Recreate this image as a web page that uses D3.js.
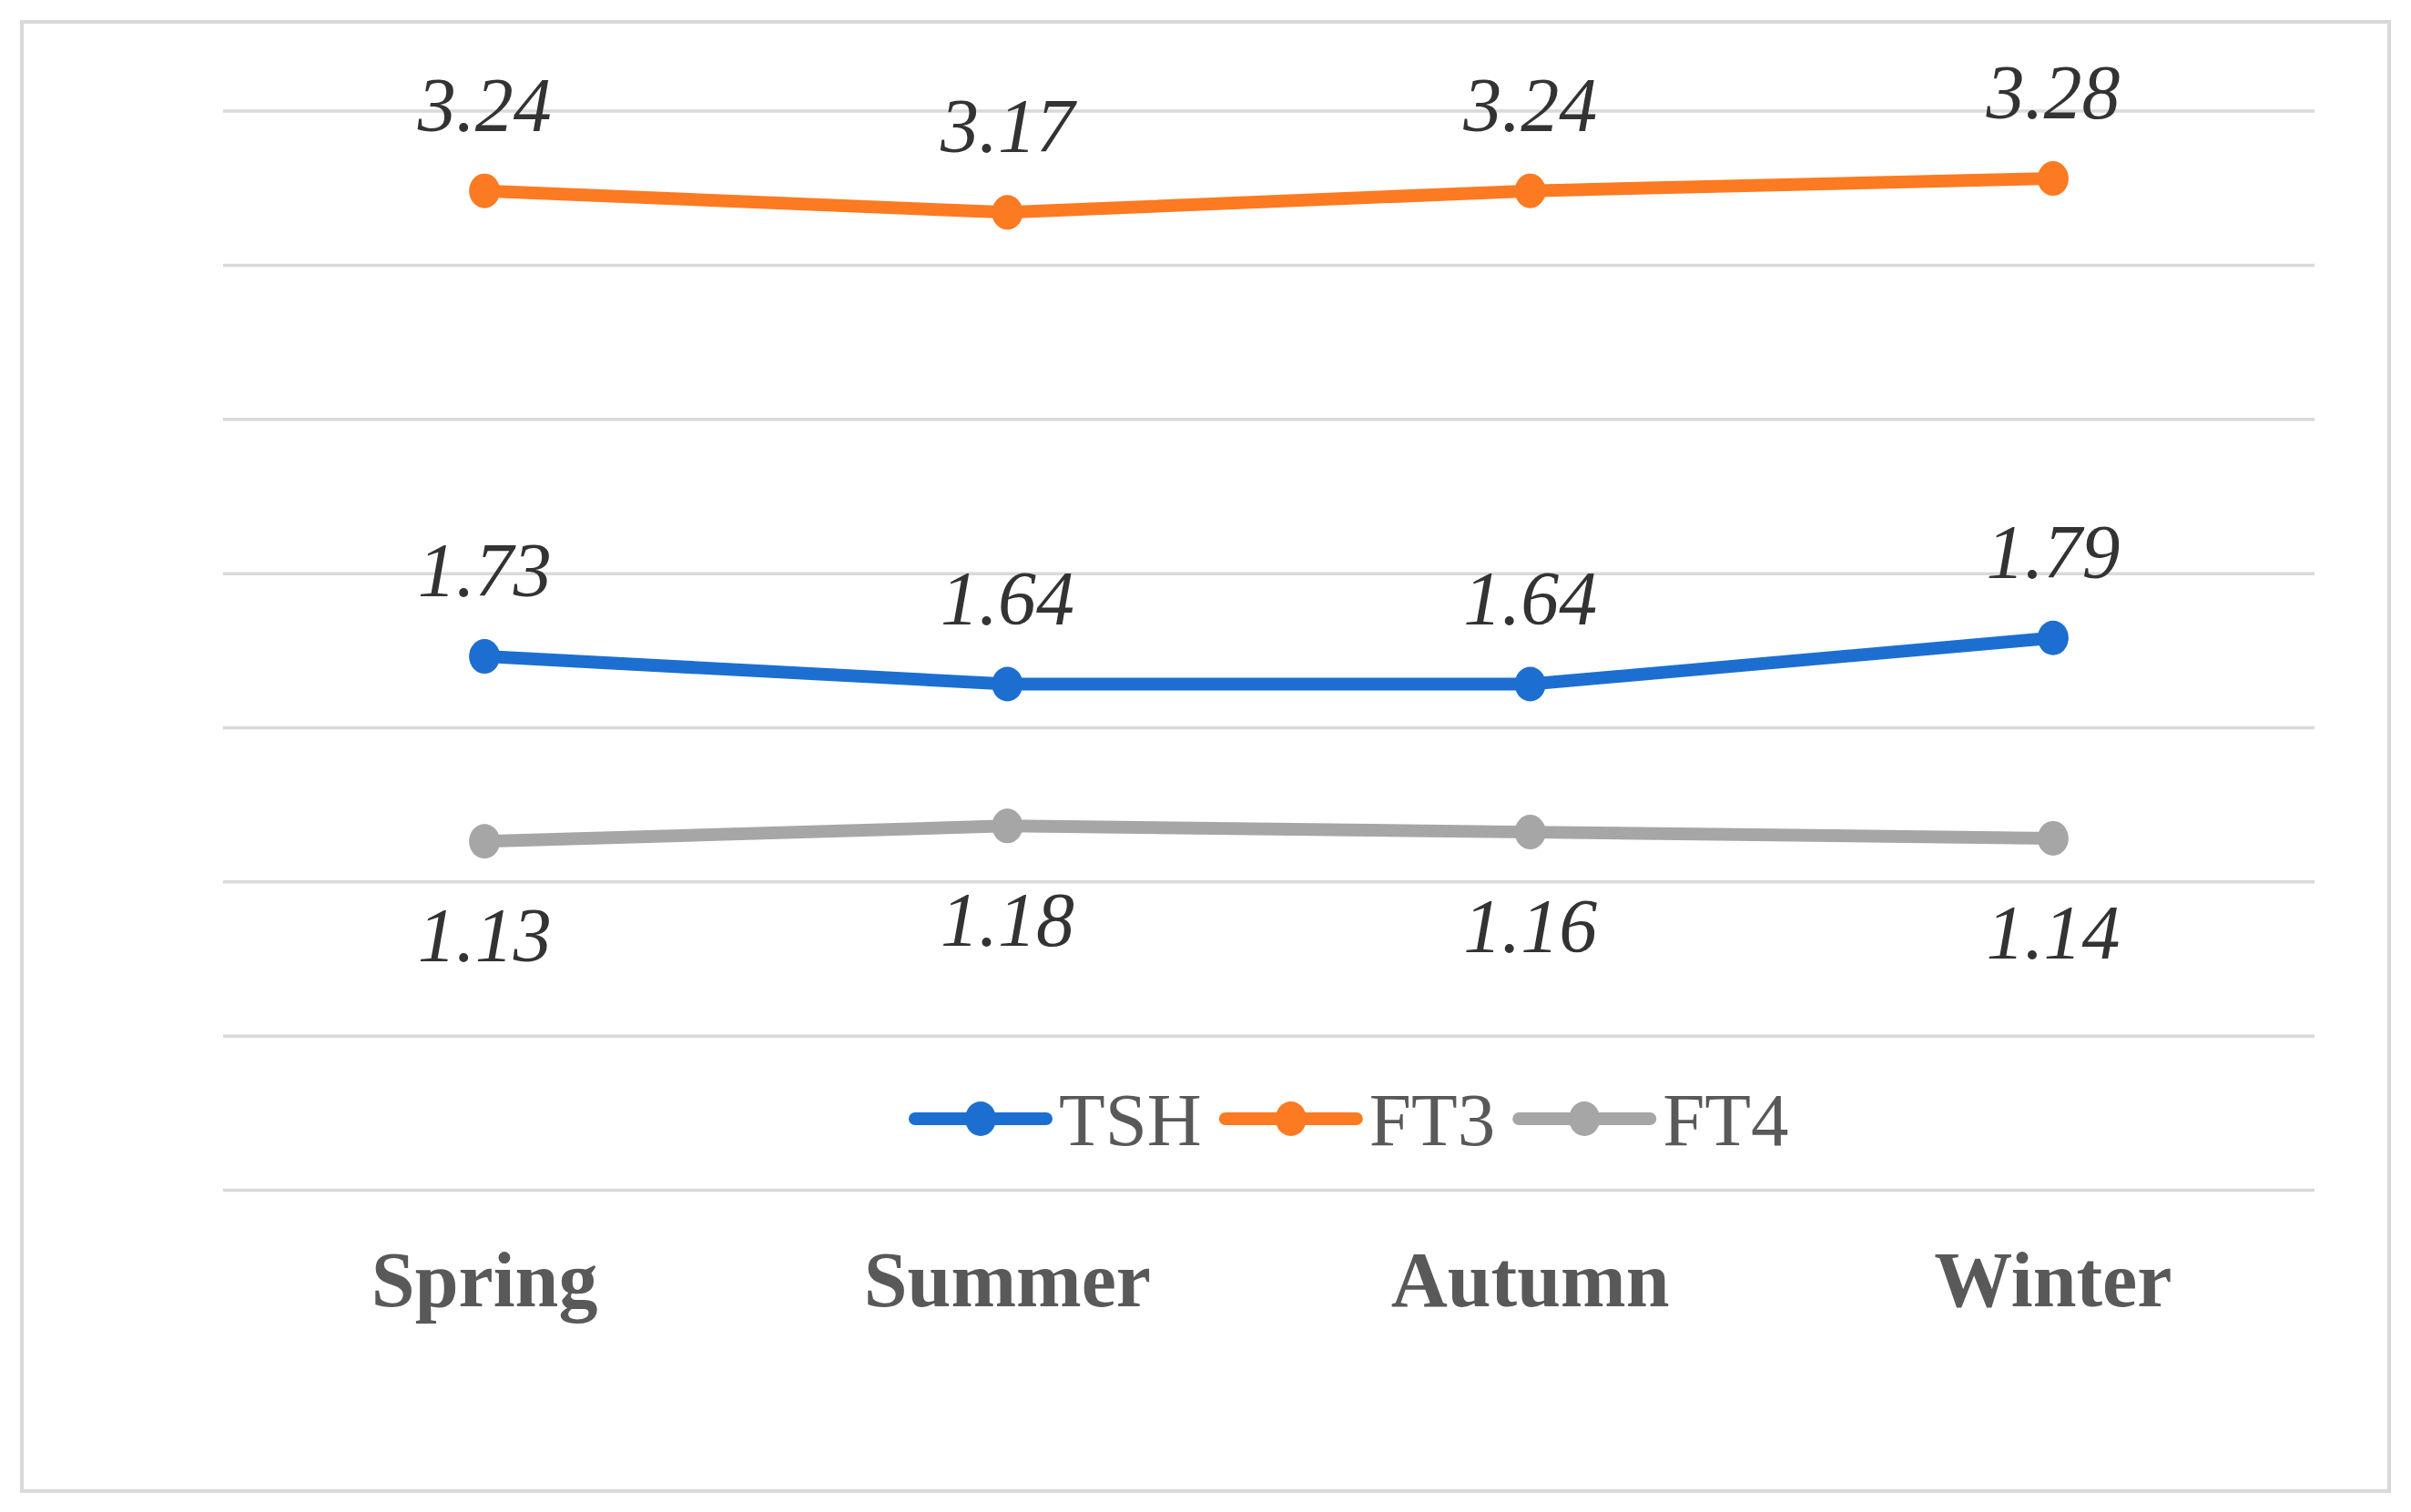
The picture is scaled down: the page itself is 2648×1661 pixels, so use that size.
<!DOCTYPE html>
<html>
<head>
<meta charset="utf-8">
<script src="https://cdn.jsdelivr.net/npm/d3@7"></script>
<style>
  html, body { margin: 0; padding: 0; background: #ffffff; }
  svg { display: block; }
</style>
</head>
<body>
<svg id="chart" width="2648" height="1661"></svg>
<script>
const categories = ["Spring", "Summer", "Autumn", "Winter"];
const seriesNames = ["TSH", "FT3", "FT4"];
const tshValues = [1.73, 1.64, 1.64, 1.79];
const ft3Values = [3.24, 3.17, 3.24, 3.28];
const ft4Values = [1.13, 1.18, 1.16, 1.14];
const gridTicks = [0, 0.5, 1, 1.5, 2, 2.5, 3, 3.5];

const series = [
  { name: seriesNames[0], values: tshValues, color: "#1c6fd0", labelPos: "above" },
  { name: seriesNames[1], values: ft3Values, color: "#fc7a22", labelPos: "above" },
  { name: seriesNames[2], values: ft4Values, color: "#a6a6a6", labelPos: "below" }
];

const svg = d3.select("#chart");

// outer frame
svg.append("rect")
  .attr("x", 24).attr("y", 24)
  .attr("width", 2600).attr("height", 1614)
  .attr("fill", "#ffffff")
  .attr("stroke", "#d9d9d9")
  .attr("stroke-width", 4);

const plot = { left: 245, right: 2542, top: 121.6, bottom: 1307 };

const x = d3.scaleBand().domain(categories).range([plot.left, plot.right]).padding(0);
const y = d3.scaleLinear().domain([0, 3.5]).range([plot.bottom, plot.top]);

// gridlines via axis
const yAxis = d3.axisLeft(y).tickValues(gridTicks).tickSize(-(plot.right - plot.left)).tickFormat("");
const gy = svg.append("g").attr("transform", `translate(${plot.left},0)`).call(yAxis);
gy.select(".domain").remove();
gy.selectAll(".tick line").attr("stroke", "#d9d9d9").attr("stroke-width", 3.5);

// category axis labels
const xAxis = d3.axisBottom(x).tickSize(0).tickPadding(0);
const gx = svg.append("g").attr("transform", `translate(0,1435)`).call(xAxis);
gx.select(".domain").remove();
gx.selectAll(".tick text")
  .attr("y", 0).attr("dy", 0)
  .attr("font-family", "'Liberation Serif', 'Times New Roman', serif")
  .attr("font-weight", "bold")
  .attr("font-size", 86)
  .attr("fill", "#595959");

const cx = c => x(c) + x.bandwidth() / 2;

const line = d3.line()
  .x((d, i) => cx(categories[i]))
  .y(d => y(d));

series.forEach(s => {
  svg.append("path")
    .datum(s.values)
    .attr("d", line)
    .attr("fill", "none")
    .attr("stroke", s.color)
    .attr("stroke-width", 14)
    .attr("stroke-linejoin", "round")
    .attr("stroke-linecap", "round");

  svg.append("g").selectAll("ellipse")
    .data(s.values)
    .join("ellipse")
    .attr("cx", (d, i) => cx(categories[i]))
    .attr("cy", d => y(d))
    .attr("rx", 17).attr("ry", 19)
    .attr("fill", s.color);

  svg.append("g").selectAll("text")
    .data(s.values)
    .join("text")
    .attr("x", (d, i) => cx(categories[i]))
    .attr("y", d => s.labelPos === "above" ? y(d) - 66 : y(d) + 132)
    .attr("text-anchor", "middle")
    .attr("font-family", "'Liberation Serif', 'Times New Roman', serif")
    .attr("font-style", "italic")
    .attr("font-size", 84)
    .attr("fill", "#333333")
    .text(d => d.toFixed(2));
});

// legend
const legend = svg.append("g");
let lx = 1005;
const ly = 1229;
series.forEach(s => {
  legend.append("line")
    .attr("x1", lx).attr("x2", lx + 144)
    .attr("y1", ly).attr("y2", ly)
    .attr("stroke", s.color).attr("stroke-width", 14)
    .attr("stroke-linecap", "round");
  legend.append("ellipse")
    .attr("cx", lx + 72).attr("cy", ly)
    .attr("rx", 17).attr("ry", 19)
    .attr("fill", s.color);
  const t = legend.append("text")
    .attr("x", lx + 158).attr("y", ly + 29)
    .attr("font-family", "'Liberation Serif', 'Times New Roman', serif")
    .attr("font-size", 83)
    .attr("fill", "#595959")
    .text(s.name);
  const w = t.node().getComputedTextLength();
  lx = lx + 158 + w + 26;
});
</script>
</body>
</html>
